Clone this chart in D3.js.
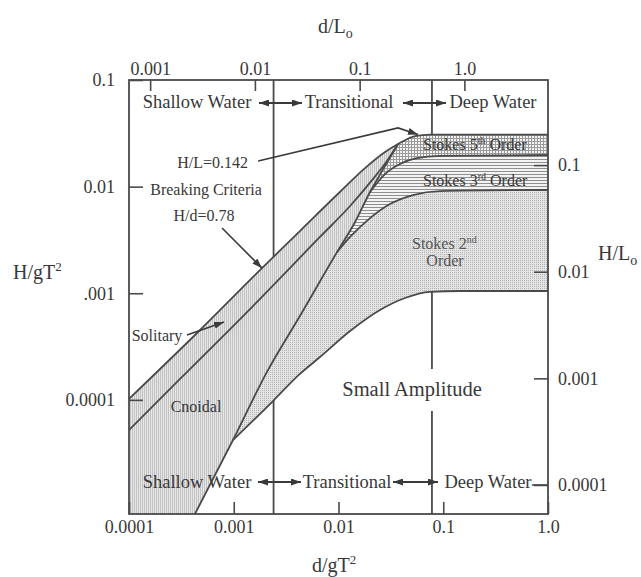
<!DOCTYPE html>
<html><head><meta charset="utf-8">
<script src="https://cdn.jsdelivr.net/npm/d3@7"></script>
<style>body{margin:0;background:#fff}</style>
</head><body>
<svg id="c" width="641" height="577"></svg>
<script>
// ---- data (d/gT^2 , H/gT^2) ----
const breakingD = [1e-4, 4.77e-4, 1.86e-3, 4.28e-3, 1.03e-2, 1.79e-2, 2.78e-2, 3.70e-2, 5.37e-2, 7.48e-2, 1];
const breakingH = [1.02e-4, 4.52e-4, 1.72e-3, 3.83e-3, 8.9e-3, 1.49e-2, 2.11e-2, 2.51e-2, 2.98e-2, 3.08e-2, 3.08e-2];
const solitaryD = [1e-4, 3.07e-4, 1.43e-3, 6.65e-3, 1.29e-2, 2.09e-2, 2.90e-2, 3.70e-2];
const solitaryH = [5.21e-5, 1.57e-4, 7.11e-4, 3.37e-3, 6.58e-3, 1.15e-2, 1.74e-2, 2.51e-2];
const ursellD = [4.26e-4, 9.84e-4, 2.07e-3, 4.28e-3, 9.68e-3, 1.44e-2, 2.00e-2, 2.78e-2, 3.70e-2];
const ursellH = [8.5e-6, 4.20e-5, 1.82e-4, 6.11e-4, 2.43e-3, 4.66e-3, 8.9e-3, 1.56e-2, 2.51e-2];
const linearD = [9.84e-4, 2.37e-3, 4.28e-3, 6.65e-3, 1.29e-2, 2.49e-2, 4.31e-2, 7.48e-2, 0.1445, 1];
const linearH = [4.20e-5, 9.75e-5, 1.75e-4, 2.52e-4, 4.42e-4, 6.96e-4, 9.02e-4, 1.03e-3, 1.05e-3, 1.05e-3];
const stokes23D = [9.68e-3, 1.29e-2, 2.00e-2, 3.10e-2, 5.14e-2, 9.31e-2, 1];
const stokes23H = [2.43e-3, 3.37e-3, 5.07e-3, 6.87e-3, 8.34e-3, 9.09e-3, 9.3e-3];
const stokes35D = [2.00e-2, 2.78e-2, 3.86e-2, 5.61e-2, 9.31e-2, 1];
const stokes35H = [8.9e-3, 1.31e-2, 1.63e-2, 1.85e-2, 1.94e-2, 1.98e-2];
const shallowLimit = 0.0024, deepLimit = 0.078;
const xDomain = [1e-4, 1], yDomain = [8.5e-6, 0.1];
const bottomTicks = [0.0001, 0.001, 0.01, 0.1, 1], bottomLabels = ["0.0001", "0.001", "0.01", "0.1", "1.0"];
const leftTicks = [0.1, 0.01, 0.001, 0.0001], leftLabels = ["0.1", "0.01", ".001", "0.0001"];
const topTicks = [0.001, 0.01, 0.1, 1], topLabels = ["0.001", "0.01", "0.1", "1.0"];
const rightTicks = [0.1, 0.01, 0.001, 0.0001], rightLabels = ["0.1", "0.01", "0.001", "0.0001"];
// annotation leader points (d/gT^2, H/gT^2)
const hdArrow = [[7.73e-4, 4.09e-3], [1.86e-3, 1.72e-3]];
const hlArrow = [[1.71e-3, 1.74e-2], [3.70e-2, 3.55e-2], [5.74e-2, 3.08e-2]];
const solArrow = [[3.58e-4, 4.06e-4], [8.07e-4, 5.37e-4]];

const zip = (a, b) => a.map((v, i) => [v, b[i]]);
const TAU = 2 * Math.PI;
const L = 129, R = 548, T = 80, B = 514;
const x = d3.scaleLog().domain(xDomain).range([L, R]);
const y = d3.scaleLog().domain(yDomain).range([B, T]);
const xTop = d3.scaleLog().domain(xDomain.map(v => v * TAU)).range([L, R]);
const yRight = d3.scaleLog().domain(yDomain.map(v => v * TAU)).range([B, T]);

const svg = d3.select("#c");
const ink = "#4a4a4a", txt = "#383838", FONT = "'Liberation Serif','Times New Roman',serif";
svg.append("rect").attr("width", 641).attr("height", 577).attr("fill", "#fff");

const defs = svg.append("defs");
function pat(id, w, h, bg, rects) {
  const p = defs.append("pattern").attr("id", id).attr("width", w).attr("height", h).attr("patternUnits", "userSpaceOnUse");
  p.append("rect").attr("width", w).attr("height", h).attr("fill", bg);
  rects.forEach(r => p.append("rect").attr("x", r[0]).attr("y", r[1]).attr("width", r[2]).attr("height", r[3]).attr("fill", r[4]));
}
pat("pv", 2, 2, "#e6e6e6", [[0, 0, 1, 2, "#c2c2c2"]]);
pat("pd", 2, 2, "#e4e4e4", [[0, 0, 1, 1, "#b4b4b4"]]);
pat("ph", 3, 3, "#f3f3f3", [[0, 0, 3, 1, "#8f8f8f"]]);
pat("pg", 3, 3, "#f3f3f3", [[0, 0, 3, 1, "#9a9a9a"], [0, 0, 1, 3, "#9a9a9a"]]);
const mk = defs.append("marker").attr("id", "ah").attr("viewBox", "0 0 10 7").attr("refX", 10).attr("refY", 3.5)
  .attr("markerWidth", 10).attr("markerHeight", 7).attr("markerUnits", "userSpaceOnUse").attr("orient", "auto-start-reverse");
mk.append("path").attr("d", "M0,0L10,3.5L0,7Z").attr("fill", "#3a3a3a");

const line = d3.line().x(d => x(d[0])).y(d => y(d[1])).curve(d3.curveMonotoneX);
const breaking = zip(breakingD, breakingH), solitary = zip(solitaryD, solitaryH), ursell = zip(ursellD, ursellH);
const linear = zip(linearD, linearH), s23 = zip(stokes23D, stokes23H), s35 = zip(stokes35D, stokes35H);
const uTop = ursell[ursell.length - 1];

function clip(id, d) { defs.append("clipPath").attr("id", id).append("path").attr("d", d); }
clip("below", line(breaking) + `L${R},${B}L${L},${B}Z`);
clip("leftU", line(ursell) + `L${x(uTop[0])},${T}L${L},${T}L${L},${B}Z`);
clip("rightU", line(ursell) + `L${x(uTop[0])},${T}L${R},${T}L${R},${B}Z`);
const above = c => line(c) + `L${R},${T}L${x(c[0][0])},${T}Z`;

// limit lines (hidden under fills)
[shallowLimit, deepLimit].forEach(v => svg.append("line").attr("x1", x(v)).attr("x2", x(v)).attr("y1", T).attr("y2", B)
  .attr("stroke", ink).attr("stroke-width", 1.8));

// fills
const g1 = svg.append("g").attr("clip-path", "url(#below)").append("g").attr("clip-path", "url(#leftU)");
g1.append("rect").attr("x", L).attr("y", T).attr("width", R - L).attr("height", B - T).attr("fill", "url(#pv)");
const g2 = svg.append("g").attr("clip-path", "url(#below)").append("g").attr("clip-path", "url(#rightU)");
g2.append("path").attr("d", above(linear)).attr("fill", "url(#pd)");
g2.append("path").attr("d", above(s23)).attr("fill", "url(#ph)");
g2.append("path").attr("d", above(s35)).attr("fill", "url(#pg)");

// curves
[breaking, solitary, ursell, linear, s23, s35].forEach(c => svg.append("path").attr("d", line(c))
  .attr("fill", "none").attr("stroke", ink).attr("stroke-width", 1.8));

// small amplitude label with white backing
svg.append("rect").attr("x", 336).attr("y", 369).attr("width", 154).attr("height", 42).attr("fill", "#fff");

// frame
svg.append("rect").attr("x", L).attr("y", T).attr("width", R - L).attr("height", B - T)
  .attr("fill", "none").attr("stroke", ink).attr("stroke-width", 1.8);

// axes
function styleAxis(g) {
  g.select(".domain").remove();
  g.selectAll(".tick line").attr("stroke", ink).attr("stroke-width", 1.6);
  g.selectAll(".tick text").attr("fill", txt).style("font-family", FONT).style("font-size", "18px");
}
svg.append("g").attr("transform", `translate(0,${B})`)
  .call(d3.axisBottom(x).tickValues(bottomTicks).tickFormat((d, i) => bottomLabels[i]).tickSize(-12).tickPadding(6)).call(styleAxis);
svg.append("g").attr("transform", `translate(${L},0)`)
  .call(d3.axisLeft(y).tickValues(leftTicks).tickFormat((d, i) => leftLabels[i]).tickSize(-14).tickPadding(14)).call(styleAxis);
svg.append("g").attr("transform", `translate(0,${T})`)
  .call(d3.axisTop(xTop).tickValues(topTicks).tickFormat((d, i) => topLabels[i]).tickSize(-11).tickPadding(5)).call(styleAxis);
svg.append("g").attr("transform", `translate(${R},0)`)
  .call(d3.axisRight(yRight).tickValues(rightTicks).tickFormat((d, i) => rightLabels[i]).tickSize(-14).tickPadding(10)).call(styleAxis);

// text helper
function label(xp, yp, s, size, anchor) {
  return svg.append("text").attr("x", xp).attr("y", yp).attr("text-anchor", anchor || "middle")
    .attr("fill", txt).style("font-family", FONT).style("font-size", size + "px").text(s);
}
function sup(t, s, size, dy) { t.append("tspan").attr("dy", dy).style("font-size", size + "px").text(s); return t; }

// axis titles
let t = label(318, 33, "d/L", 20, "start"); sup(t, "o", 14, 5);
t = label(13, 279, "H/gT", 20, "start"); sup(t, "2", 13, -8);
t = label(598, 260, "H/L", 20, "start"); sup(t, "o", 14, 5);
t = label(312, 572, "d/gT", 20, "start"); sup(t, "2", 13, -8);

// region labels
label(197, 108, "Shallow Water", 18.5); label(349, 108, "Transitional", 18.5); label(493, 108, "Deep Water", 18.5);
label(197, 488, "Shallow Water", 18.5); label(347, 488, "Transitional", 18.5); label(488, 488, "Deep Water", 18.5);
const arr = (x1, x2, yy) => svg.append("line").attr("x1", x1).attr("x2", x2).attr("y1", yy).attr("y2", yy)
  .attr("stroke", "#3a3a3a").attr("stroke-width", 1.8).attr("marker-start", "url(#ah)").attr("marker-end", "url(#ah)");
arr(259, 302, 103); arr(403, 446, 103); arr(258, 301, 482); arr(393, 438, 482);
svg.append("line").attr("x1", 532).attr("x2", R).attr("y1", yRight(0.0001)).attr("y2", yRight(0.0001)).attr("stroke", ink).attr("stroke-width", 1.6);

label(412, 396, "Small Amplitude", 20.5);
t = label(423, 150, "Stokes 5", 16, "start"); sup(t, "th", 10, -6); t.append("tspan").attr("dy", 6).text(" Order");
t = label(423, 186, "Stokes 3", 16, "start"); sup(t, "rd", 10, -6); t.append("tspan").attr("dy", 6).text(" Order");
t = label(412, 249, "Stokes 2", 16, "start").attr("fill", "#555"); sup(t, "nd", 10, -6);
label(445, 266, "Order", 16).attr("fill", "#555");
label(248, 168, "H/L=0.142", 16, "end");
label(206, 195, "Breaking Criteria", 16);
label(204, 221, "H/d=0.78", 16);
label(157, 341, "Solitary", 16);
label(196, 412, "Cnoidal", 16);

// leaders
const pl = d3.line().x(d => x(d[0])).y(d => y(d[1]));
svg.append("path").attr("d", pl(hlArrow)).attr("fill", "none").attr("stroke", "#3a3a3a").attr("stroke-width", 1.6).attr("marker-end", "url(#ah)");
svg.append("path").attr("d", d3.line().x(d => x(d[0])).y(d => y(d[1])).curve(d3.curveBundle.beta(0.9))(hdArrow))
  .attr("fill", "none").attr("stroke", "#3a3a3a").attr("stroke-width", 1.6).attr("marker-end", "url(#ah)");
svg.append("path").attr("d", pl(solArrow)).attr("fill", "none").attr("stroke", "#3a3a3a").attr("stroke-width", 1.6).attr("marker-end", "url(#ah)");
</script>
</body></html>
